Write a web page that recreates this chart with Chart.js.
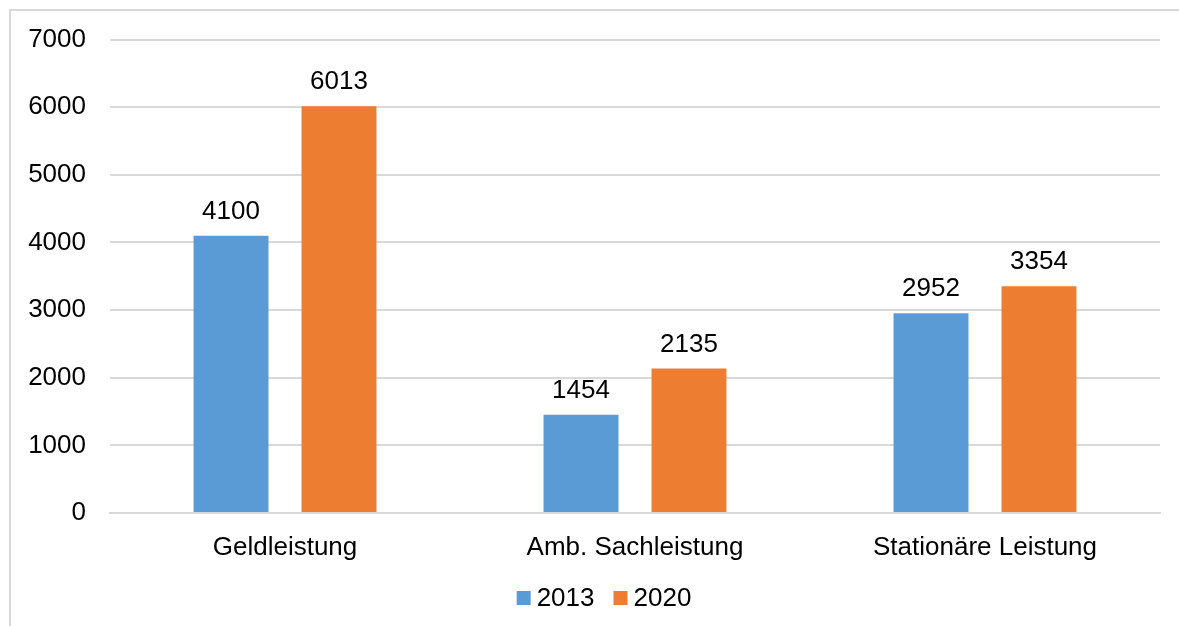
<!DOCTYPE html>
<html>
<head>
<meta charset="utf-8">
<script src="https://cdn.jsdelivr.net/npm/chart.js@4/dist/chart.umd.min.js"></script>
<style>
	body { margin: 0; background: #fff; overflow: hidden; }
	#frame { position: absolute; left: 9px; top: 9px; width: 1300px; height: 700px; border: 2px solid #d9d9d9; }
	#chart { position: absolute; left: 0; top: 0; }
</style>
</head>
<body>
<div id="frame"></div>
<canvas id="chart" width="1179" height="626"></canvas>
<script>
const categories = ['Geldleistung', 'Amb. Sachleistung', 'Stationäre Leistung'];
const seriesNames = ['2013', '2020'];
const values2013 = [4100, 1454, 2952];
const values2020 = [6013, 2135, 3354];
const yTicks = [0, 1000, 2000, 3000, 4000, 5000, 6000, 7000];

const FONT = "'Liberation Sans', Arial, sans-serif";

// value labels above each bar
const barLabels = {
	id: 'barLabels',
	afterDatasetsDraw(chart) {
		const ctx = chart.ctx;
		ctx.save();
		ctx.font = '26px ' + FONT;
		ctx.fillStyle = '#000';
		ctx.textAlign = 'center';
		ctx.textBaseline = 'alphabetic';
		chart.data.datasets.forEach((ds, i) => {
			chart.getDatasetMeta(i).data.forEach((bar, j) => {
				ctx.fillText(ds.data[j], bar.x, bar.y - 17);
			});
		});
		ctx.restore();
	}
};

// legend at the bottom, small square + text, centred
const bottomLegend = {
	id: 'bottomLegend',
	afterDraw(chart) {
		const ctx = chart.ctx;
		const box = 14, gap = 6, itemGap = 19, cy = 598;
		ctx.save();
		ctx.font = '26px ' + FONT;
		ctx.textBaseline = 'middle';
		ctx.textAlign = 'left';
		const items = chart.data.datasets.map(ds => ({ text: ds.label, color: ds.backgroundColor, w: ctx.measureText(ds.label).width }));
		let total = 0;
		items.forEach((it, i) => { total += box + gap + it.w + (i ? itemGap : 0); });
		let x = 604 - total / 2;
		items.forEach(it => {
			ctx.fillStyle = it.color;
			ctx.fillRect(x, cy - box / 2, box, box);
			x += box + gap;
			ctx.fillStyle = '#000';
			ctx.fillText(it.text, x, cy + 1);
			x += it.w + itemGap;
		});
		ctx.restore();
	}
};

const ctx = document.getElementById('chart');
const myChart = new Chart(ctx, {
	type: 'bar',
	data: {
		labels: categories,
		datasets: [
			{ label: seriesNames[0], data: values2013, backgroundColor: '#5B9BD5' },
			{ label: seriesNames[1], data: values2020, backgroundColor: '#ED7D31' }
		]
	},
	options: {
		responsive: false,
		animation: false,
		devicePixelRatio: 1,
		categoryPercentage: 0.617,
		barPercentage: 0.694,
		layout: { padding: { top: 39, right: 19, left: 0, bottom: 50 } },
		plugins: {
			tooltip: { enabled: false },
			legend: { display: false }
		},
		scales: {
			x: {
				grid: { display: false, drawTicks: false },
				border: { color: '#d9d9d9', width: 2 },
				ticks: { color: '#000', font: { family: FONT, size: 26 }, padding: 19 },
				afterFit(scale) { scale.height = 63; }
			},
			y: {
				min: 0,
				max: 7000,
				afterBuildTicks(scale) { scale.ticks = yTicks.map(v => ({ value: v })); },
				grid: { color: '#d9d9d9', lineWidth: 2, drawTicks: false },
				border: { display: false },
				ticks: { color: '#000', font: { family: FONT, size: 26 }, padding: 24, callback: v => String(v) },
				afterFit(scale) { scale.width = 110; }
			}
		}
	},
	plugins: [barLabels, bottomLegend]
});
</script>
</body>
</html>
